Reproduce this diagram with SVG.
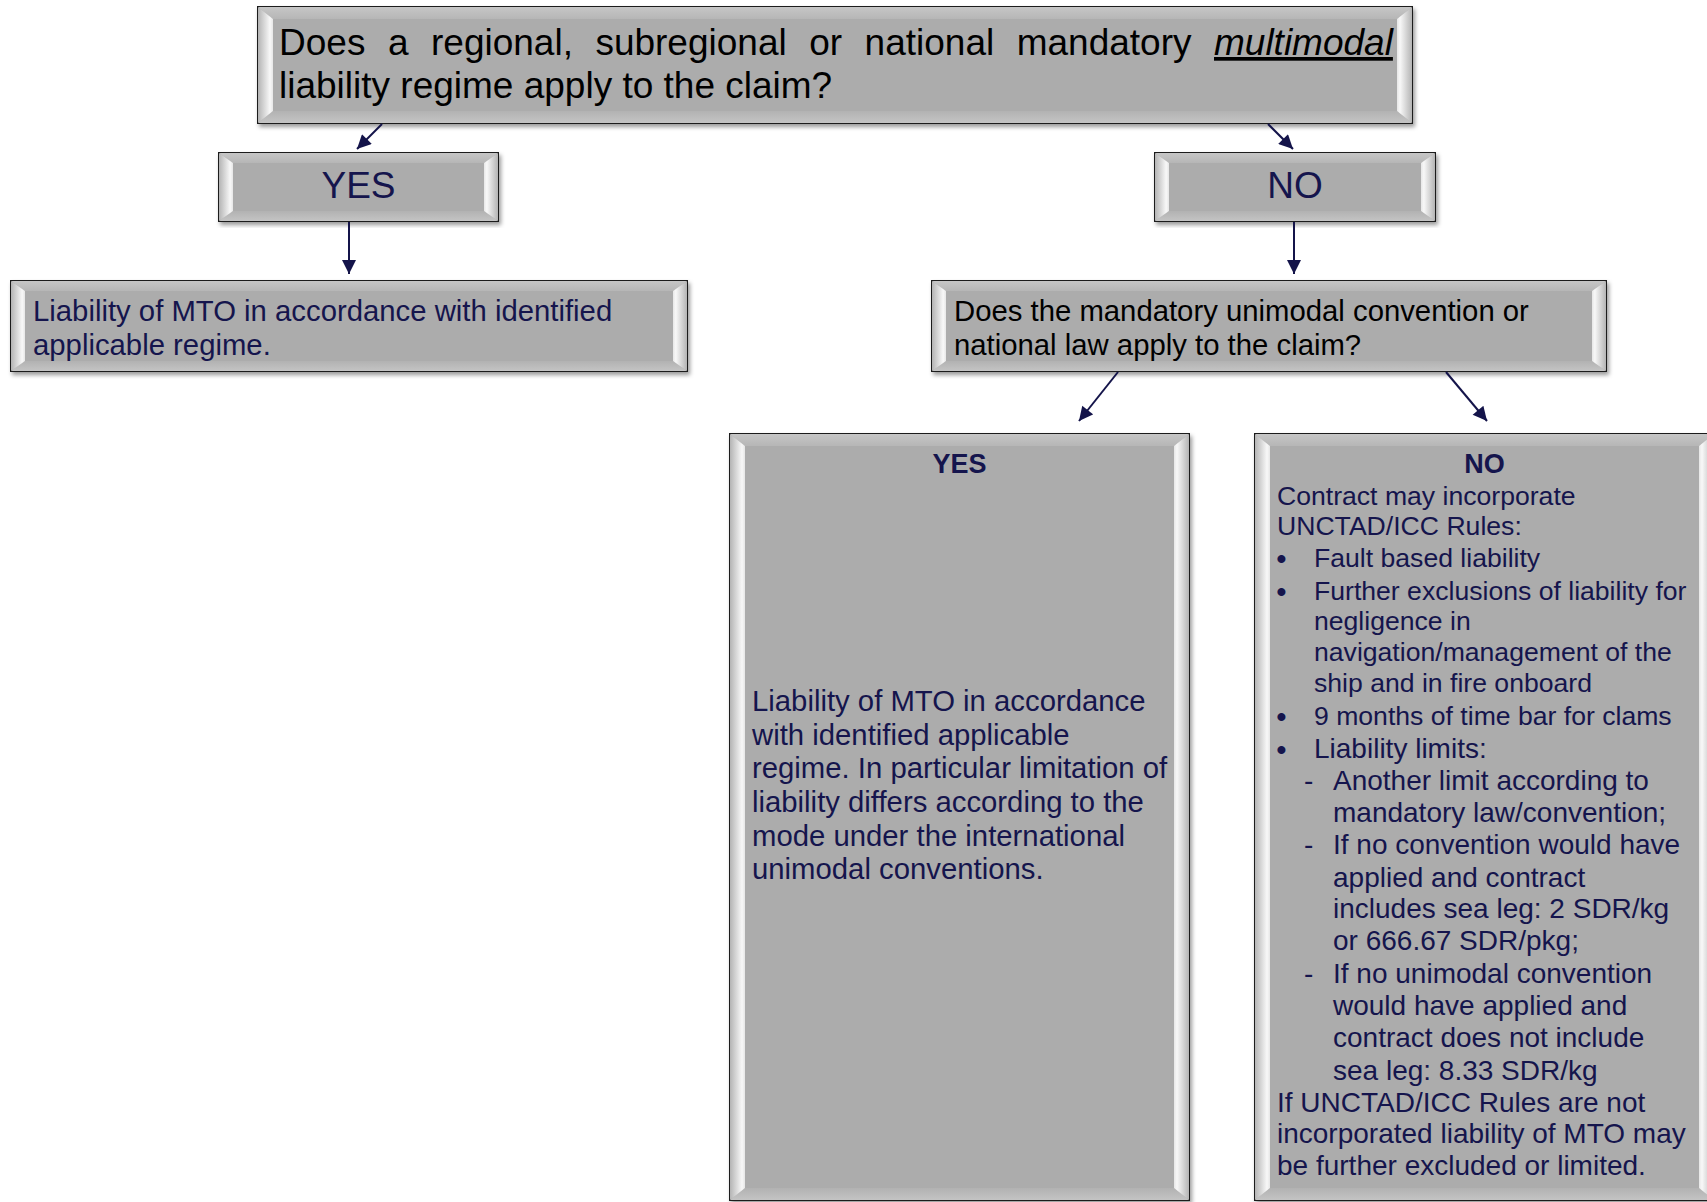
<svg xmlns="http://www.w3.org/2000/svg" width="1707" height="1202" viewBox="0 0 1707 1202">
<defs>
<filter id="sh" x="-5%" y="-5%" width="110%" height="115%">
<feDropShadow dx="2" dy="3" stdDeviation="2" flood-color="#000" flood-opacity="0.4"/>
</filter>
<linearGradient id="gL" x1="0" y1="0" x2="1" y2="0">
<stop offset="0" stop-color="#b4b4b4"/><stop offset="0.8" stop-color="#f8f8f8"/><stop offset="1" stop-color="#e6e6e6"/>
</linearGradient>
<linearGradient id="gR" x1="1" y1="0" x2="0" y2="0">
<stop offset="0" stop-color="#b4b4b4"/><stop offset="0.8" stop-color="#f8f8f8"/><stop offset="1" stop-color="#e6e6e6"/>
</linearGradient>
<linearGradient id="gT" x1="0" y1="0" x2="0" y2="1">
<stop offset="0" stop-color="#c6c6c6"/><stop offset="1" stop-color="#b6b6b6"/>
</linearGradient>
<linearGradient id="gB" x1="0" y1="0" x2="0" y2="1">
<stop offset="0" stop-color="#b2b2b2"/><stop offset="1" stop-color="#c4c4c4"/>
</linearGradient>
<marker id="ah" viewBox="0 0 10 10" refX="10" refY="5" markerWidth="15" markerHeight="14" markerUnits="userSpaceOnUse" orient="auto">
<path d="M0,0 L10,5 L0,10 z" fill="#14144a"/>
</marker>
</defs>
<style>
.box{fill:#acacac;stroke:#1c1c1c;stroke-width:2;filter:url(#sh)}
.bt{fill:url(#gT)}
.bb{fill:url(#gB)}
.bl{fill:url(#gL)}
.br{fill:url(#gR)}
text{font-family:"Liberation Sans",Arial,sans-serif}
.q{font-size:37px;fill:#000}
.q2{font-size:29.3px;fill:#000}
.big{font-size:37px;fill:#15154d}
.t{font-size:29.3px;fill:#15154d}
.n{font-size:26.6px;fill:#15154d}
.m{font-size:28px;fill:#15154d}
.bu{font-size:28px;font-weight:bold;fill:#15154d}
.h{font-size:27px;font-weight:bold;fill:#15154d}
.c{stroke:#14144a;stroke-width:2;fill:none;marker-end:url(#ah)}
</style>
<rect width="1707" height="1202" fill="#fff"/>

<g id="q1">
<rect class="box" x="258" y="7" width="1154" height="116"/>
<polygon class="bt" points="258,7 1412,7 1397,19 273,19"/>
<polygon class="bb" points="258,123 1412,123 1397,111 273,111"/>
<polygon class="bl" points="258,7 273,19 273,111 258,123"/>
<polygon class="br" points="1412,7 1397,19 1397,111 1412,123"/>
<text class="q" y="55"><tspan x="279">Does</tspan><tspan x="388">a</tspan><tspan x="431">regional,</tspan><tspan x="595.4">subregional</tspan><tspan x="809.2">or</tspan><tspan x="864.6">national</tspan><tspan x="1016.7">mandatory</tspan><tspan x="1214" font-style="italic" text-decoration="underline">multimodal</tspan></text>
<text class="q" x="279" y="98">liability regime apply to the claim?</text>
</g>

<g id="yes1">
<rect class="box" x="219" y="153" width="279" height="68"/>
<polygon class="bt" points="219,153 498,153 484,163 233,163"/>
<polygon class="bb" points="219,221 498,221 484,211 233,211"/>
<polygon class="bl" points="219,153 233,163 233,211 219,221"/>
<polygon class="br" points="498,153 484,163 484,211 498,221"/>
<text class="big" x="358.5" y="198" text-anchor="middle">YES</text>
</g>

<g id="no1">
<rect class="box" x="1155" y="153" width="280" height="68"/>
<polygon class="bt" points="1155,153 1435,153 1421,163 1169,163"/>
<polygon class="bb" points="1155,221 1435,221 1421,211 1169,211"/>
<polygon class="bl" points="1155,153 1169,163 1169,211 1155,221"/>
<polygon class="br" points="1435,153 1421,163 1421,211 1435,221"/>
<text class="big" x="1295" y="198" text-anchor="middle">NO</text>
</g>

<g id="res1">
<rect class="box" x="11" y="281" width="676" height="90"/>
<polygon class="bt" points="11,281 687,281 673,291 25,291"/>
<polygon class="bb" points="11,371 687,371 673,361 25,361"/>
<polygon class="bl" points="11,281 25,291 25,361 11,371"/>
<polygon class="br" points="687,281 673,291 673,361 687,371"/>
<text class="t" x="33" y="321">Liability of MTO in accordance with identified</text>
<text class="t" x="33" y="355">applicable regime.</text>
</g>

<g id="q2">
<rect class="box" x="932" y="281" width="674" height="90"/>
<polygon class="bt" points="932,281 1606,281 1592,291 946,291"/>
<polygon class="bb" points="932,371 1606,371 1592,361 946,361"/>
<polygon class="bl" points="932,281 946,291 946,361 932,371"/>
<polygon class="br" points="1606,281 1592,291 1592,361 1606,371"/>
<text class="q2" x="954" y="321">Does the mandatory unimodal convention or</text>
<text class="q2" x="954" y="355">national law apply to the claim?</text>
</g>

<g id="yes2">
<rect class="box" x="730" y="434" width="459" height="766"/>
<polygon class="bt" points="730,434 1189,434 1174,446 745,446"/>
<polygon class="bb" points="730,1200 1189,1200 1174,1188 745,1188"/>
<polygon class="bl" points="730,434 745,446 745,1188 730,1200"/>
<polygon class="br" points="1189,434 1174,446 1174,1188 1189,1200"/>
<text class="h" x="959.5" y="473" text-anchor="middle">YES</text>
<text class="t" x="752" y="711">Liability of MTO in accordance</text>
<text class="t" x="752" y="745">with identified applicable</text>
<text class="t" x="752" y="778">regime. In particular limitation of</text>
<text class="t" x="752" y="812">liability differs according to the</text>
<text class="t" x="752" y="846">mode under the international</text>
<text class="t" x="752" y="879">unimodal conventions.</text>
</g>

<g id="no2">
<rect class="box" x="1255" y="434" width="459" height="766"/>
<polygon class="bt" points="1255,434 1714,434 1699,446 1270,446"/>
<polygon class="bb" points="1255,1200 1714,1200 1699,1188 1270,1188"/>
<polygon class="bl" points="1255,434 1270,446 1270,1188 1255,1200"/>
<polygon class="br" points="1714,434 1699,446 1699,1188 1714,1200"/>
<text class="h" x="1484.5" y="473" text-anchor="middle">NO</text>
<text class="n" x="1277" y="505">Contract may incorporate</text>
<text class="n" x="1277" y="535">UNCTAD/ICC Rules:</text>
<text class="bu" x="1276.5" y="568">•</text>
<text class="n" x="1314" y="567">Fault based liability</text>
<text class="bu" x="1276.5" y="601">•</text>
<text class="n" x="1314" y="600">Further exclusions of liability for</text>
<text class="n" x="1314" y="630">negligence in</text>
<text class="n" x="1314" y="661">navigation/management of the</text>
<text class="n" x="1314" y="692">ship and in fire onboard</text>
<text class="bu" x="1276.5" y="726">•</text>
<text class="n" x="1314" y="725">9 months of time bar for clams</text>
<text class="bu" x="1276.5" y="759">•</text>
<text class="m" x="1314" y="758">Liability limits:</text>
<text class="m" x="1304" y="790">-</text>
<text class="m" x="1333" y="790">Another limit according to</text>
<text class="m" x="1333" y="822">mandatory law/convention;</text>
<text class="m" x="1304" y="854">-</text>
<text class="m" x="1333" y="854">If no convention would have</text>
<text class="m" x="1333" y="887">applied and contract</text>
<text class="m" x="1333" y="918">includes sea leg: 2 SDR/kg</text>
<text class="m" x="1333" y="950">or 666.67 SDR/pkg;</text>
<text class="m" x="1304" y="983">-</text>
<text class="m" x="1333" y="983">If no unimodal convention</text>
<text class="m" x="1333" y="1015">would have applied and</text>
<text class="m" x="1333" y="1047">contract does not include</text>
<text class="m" x="1333" y="1080">sea leg: 8.33 SDR/kg</text>
<text class="m" x="1277" y="1112">If UNCTAD/ICC Rules are not</text>
<text class="m" x="1277" y="1143">incorporated liability of MTO may</text>
<text class="m" x="1277" y="1175">be further excluded or limited.</text>
</g>

<g id="connectors">
<line class="c" x1="382" y1="124" x2="357" y2="149"/>
<line class="c" x1="349" y1="222" x2="349" y2="274"/>
<line class="c" x1="1268" y1="124" x2="1293" y2="149"/>
<line class="c" x1="1294" y1="222" x2="1294" y2="274"/>
<line class="c" x1="1118" y1="372" x2="1079" y2="421"/>
<line class="c" x1="1446" y1="372" x2="1487" y2="421"/>
</g>
</svg>
